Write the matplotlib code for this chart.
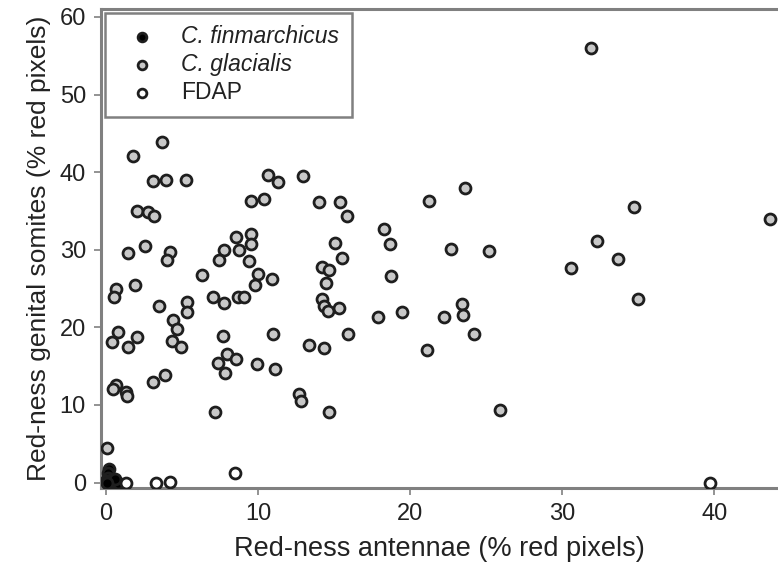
import numpy as np
import matplotlib.pyplot as plt

plt.rcParams['font.family'] = ['Liberation Sans', 'DejaVu Sans']

#%% Data
# C. glacialis
x_gla = [31.9, 3.65, 1.74, 3.05, 3.94, 5.25, 10.67, 11.3, 12.97, 23.6,
         9.52, 10.41, 14.02, 15.4, 15.83, 21.25, 34.75, 43.7, 2.04, 2.76,
         3.15, 1.45, 2.53, 4.2, 3.97, 8.57, 9.52, 9.52, 7.75, 8.77,
         7.42, 9.43, 18.3, 18.7, 15.07, 15.5, 22.66, 25.2, 32.3, 33.7,
         30.6, 6.3, 10.0, 9.82, 10.94, 14.2, 14.68, 14.48, 18.75, 1.87,
         0.66, 0.53, 3.5, 7.03, 7.72, 8.67, 9.1, 5.35, 5.29, 4.37,
         4.66, 4.33, 4.9, 14.2, 14.3, 14.6, 15.3, 23.4, 23.5, 35.0,
         17.87, 19.44, 22.2, 24.2, 15.9, 11.0, 7.68, 13.37, 14.3, 21.1,
         0.79, 0.36, 2.0, 1.45, 7.95, 8.54, 7.36, 7.85, 9.9, 11.1,
         3.88, 3.09, 0.62, 0.46, 1.31, 1.38, 12.7, 12.84, 7.16, 14.65,
         25.9, 0.07]
y_gla = [56.0, 43.9, 42.1, 38.8, 39.0, 39.0, 39.6, 38.7, 39.5, 37.9,
         36.3, 36.6, 36.2, 36.1, 34.3, 36.3, 35.5, 33.9, 35.0, 34.8,
         34.3, 29.6, 30.5, 29.7, 28.7, 31.6, 32.0, 30.8, 30.0, 30.0,
         28.7, 28.5, 32.7, 30.8, 30.9, 29.0, 30.05, 29.8, 31.1, 28.8,
         27.7, 26.7, 26.9, 25.5, 26.2, 27.8, 27.4, 25.7, 26.6, 25.5,
         24.9, 23.9, 22.7, 23.9, 23.1, 23.9, 23.9, 23.3, 22.0, 21.0,
         19.8, 18.2, 17.5, 23.7, 22.7, 22.1, 22.5, 23.05, 21.6, 23.6,
         21.3, 22.0, 21.3, 19.1, 19.2, 19.2, 18.9, 17.7, 17.4, 17.1,
         19.4, 18.1, 18.8, 17.5, 16.6, 15.9, 15.35, 14.1, 15.3, 14.65,
         13.9, 12.9, 12.6, 12.1, 11.7, 11.2, 11.4, 10.5, 9.1, 9.1,
         9.4, 4.5]

# C. finmarchicus
x_fin = [0.2, 0.15, 0.1, 0.0, 0.3, 0.5, 0.8, 0.2, 0.6, 0.05]
y_fin = [1.8, 1.2, 0.6, 0.2, 0.3, 0.1, 0.0, 0.0, 0.4, 0.0]

# FDAP
x_fdap = [1.31, 3.3, 4.17, 8.47, 39.7]
y_fdap = [0.0, 0.0, 0.1, 1.2, 0.0]

#%% Plot
fig = plt.figure(figsize=(7.78, 5.71), dpi=100)
ax = fig.add_axes([0.130, 0.146, 0.870, 0.838])

kw = dict(s=62, edgecolors='#1e1e1e', linewidths=2.0)
ax.scatter(x_fin, y_fin, c='black', label='C. finmarchicus', zorder=3, **kw)
ax.scatter(x_gla, y_gla, c='#c8c8c8', label='C. glacialis', zorder=3, **kw)
ax.scatter(x_fdap, y_fdap, c='white', label='FDAP', zorder=3, **kw)

ax.set_xlim(-0.33, 44.2)
ax.set_ylim(-0.65, 61.0)
ax.set_xticks([0, 10, 20, 30, 40])
ax.set_yticks([0, 10, 20, 30, 40, 50, 60])

for s in ['left', 'bottom', 'top']:
    ax.spines[s].set_color('#808080')
    ax.spines[s].set_linewidth(2.2)
ax.spines['right'].set_visible(False)
ax.tick_params(direction='out', length=5, width=1.2, color='#808080',
               labelsize=17, labelcolor='#222222', pad=6)

ax.set_xlabel('Red-ness antennae (% red pixels)', fontsize=19.5, color='#222222', labelpad=8)
ax.set_ylabel('Red-ness genital somites (% red pixels)', fontsize=19, color='#222222', labelpad=6)

leg = ax.legend(loc='upper left', fontsize=16.5, markerscale=0.8, fancybox=False,
                framealpha=1, edgecolor='#808080', borderaxespad=0.15,
                handletextpad=0.6, labelspacing=0.22, borderpad=0.55,
                handlelength=2.2)
leg.get_frame().set_linewidth(1.8)
for t in leg.get_texts()[:2]:
    t.set_style('italic')
for t in leg.get_texts():
    t.set_color('#222222')

plt.savefig('out.png', dpi=100)
